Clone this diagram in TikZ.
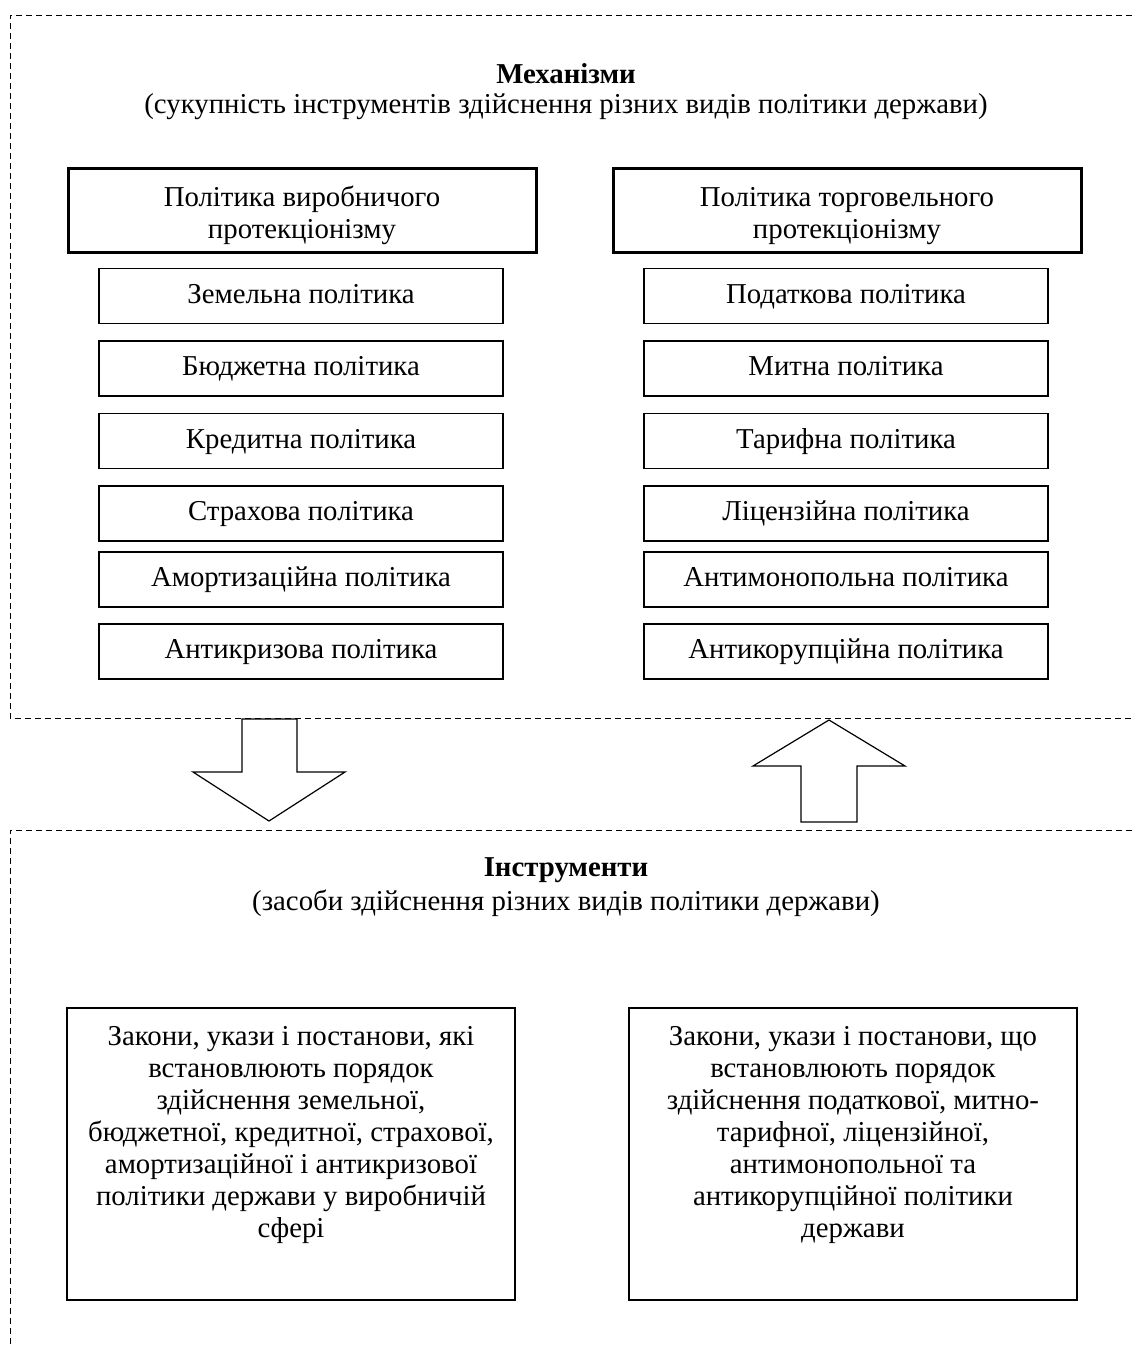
\documentclass[tikz,border=0pt]{standalone}
\usepackage{fontspec}
\setmainfont{Liberation Serif}

\begin{document}
\begin{tikzpicture}[x=0.5pt, y=-0.5pt,
    txt/.style={font=\fontsize{14.4}{16}\selectfont},
    title/.style={font=\fontsize{14.4}{16}\selectfont\bfseries},
    frame/.style={line width=0.5pt, dash pattern=on 3pt off 2pt},
    headbox/.style={txt, draw, line width=1.5pt, align=center, minimum width=234pt, minimum height=42pt},
    polbox/.style={txt, draw, line width=0.7pt, minimum width=202pt, minimum height=27.5pt,
        text height=10pt, text depth=3pt},
    lawbox/.style={draw, line width=0.7pt, minimum width=224pt, minimum height=146pt},
    bigarrow/.style={draw, line width=0.6pt}]

    % Fix the page to the size of the reference
    \useasboundingbox (0,0) rectangle (1132,1345);

    % Dashed frames of the two sections (open on the right)
    \draw[frame] (1132,15) -- (10,15) -- (10,718) -- (1132,718);
    \draw[frame] (1132,830) -- (10,830) -- (10,1345);

    % Upper section: mechanisms
    \node[title] (mechtitle) at (566,74) {Механізми};
    \node[txt] (mechnote) at (566,107) {(сукупність інструментів здійснення різних видів політики держави)};

    % The two kinds of protectionism (strut pushes the two lines a little down)
    \node[headbox] (prodhead) at (302,210) {\rule{0pt}{15.5pt}Політика виробничого\\протекціонізму};
    \node[headbox] (tradehead) at (847,210) {\rule{0pt}{15.5pt}Політика торговельного\\протекціонізму};

    % Policies of the left column
    \foreach \txt/\yy [count=\i] in {{Земельна політика}/296, {Бюджетна політика}/368.5,
        {Кредитна політика}/441, {Страхова політика}/513.5,
        {Амортизаційна політика}/579.5, {Антикризова політика}/651.5}
        \node[polbox] (prodpol\i) at (301,\yy) {\txt};

    % Policies of the right column
    \foreach \txt/\yy [count=\i] in {{Податкова політика}/296, {Митна політика}/368.5,
        {Тарифна політика}/441, {Ліцензійна політика}/513.5,
        {Антимонопольна політика}/579.5, {Антикорупційна політика}/651.5}
        \node[polbox] (tradepol\i) at (846,\yy) {\txt};

    % Block arrows between the sections
    \draw[bigarrow] (242,719) -- (242,772) -- (193,772) -- (269,821) -- (345,772)
        -- (297,772) -- (297,719) -- cycle;
    \draw[bigarrow] (801,822) -- (801,766) -- (753,766) -- (829,720) -- (905,766)
        -- (857,766) -- (857,822) -- cycle;

    % Lower section: instruments
    \node[title] (insttitle) at (566,870) {Інструменти};
    \node[txt] (instnote) at (566,903) {(засоби здійснення різних видів політики держави)};

    % Boxes with the legal acts
    \node[lawbox] (lawprod) at (291,1154) {};
    \node[lawbox] (lawtrade) at (853,1154) {};
    \node[txt, anchor=north, align=center] (lawprodtxt) at ([yshift=-6pt]lawprod.north)
        {Закони, укази і постанови, які\\встановлюють порядок\\здійснення земельної,\\бюджетної, кредитної, страхової,\\амортизаційної і антикризової\\політики держави у виробничій\\сфері};
    \node[txt, anchor=north, align=center] (lawtradetxt) at ([yshift=-6pt]lawtrade.north)
        {Закони, укази і постанови, що\\встановлюють порядок\\здійснення податкової, митно-\\тарифної, ліцензійної,\\антимонопольної та\\антикорупційної політики\\держави};

\end{tikzpicture}
\end{document}
